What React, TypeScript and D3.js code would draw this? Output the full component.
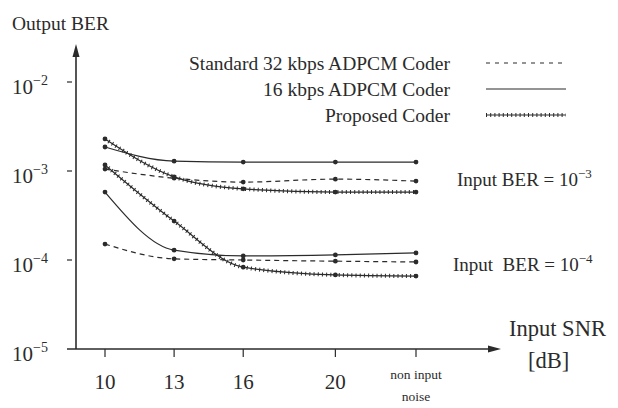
import React from 'react';
import * as d3 from 'd3';

// Input SNR in dB; the last point is "non input noise", placed one step past 20 dB
const snrValues = [10, 13, 16, 20, 23.5];
const snrLabels = [['10'], ['13'], ['16'], ['20'], ['non input', 'noise']];

// Output BER, input BER = 1e-3
const std32Ber3 = [1.05e-3, 8.3e-4, 7.5e-4, 8.1e-4, 7.7e-4];
const adpcm16Ber3 = [1.86e-3, 1.29e-3, 1.26e-3, 1.26e-3, 1.26e-3];
const proposedBer3 = [2.29e-3, 8.6e-4, 6.3e-4, 5.8e-4, 5.8e-4];

// Output BER, input BER = 1e-4
const std32Ber4 = [1.51e-4, 1.03e-4, 1.0e-4, 9.7e-5, 9.5e-5];
const adpcm16Ber4 = [5.8e-4, 1.29e-4, 1.11e-4, 1.14e-4, 1.2e-4];
const proposedBer4 = [1.17e-3, 2.74e-4, 8.3e-5, 6.8e-5, 6.6e-5];

const yTickValues = [1e-2, 1e-3, 1e-4, 1e-5];
const yTickExponents = ['−2', '−3', '−4', '−5'];

const legendLabels = ['Standard 32 kbps ADPCM Coder', '16 kbps ADPCM Coder', 'Proposed Coder'];
const legendStyles = ['dashed', 'solid', 'proposed'];

const ink = '#2b2b2b';
const font = '"Liberation Serif", "Times New Roman", serif';

const width = 618;
const height = 408;
const axisX = 76;
const axisY = 349;

const x = d3.scaleLinear().domain([10, 23.5]).range([105, 416]);
const y = d3.scaleLog().domain([1e-5, 1e-2]).range([axisY, 82]);

const line = d3
  .line<number>()
  .x((_, i) => x(snrValues[i]))
  .y(d => y(d))
  .curve(d3.curveMonotoneX);

// thin line with small cross-hatches, as in the printed figure
const Hatched = ({ d }: { d: string }) => (
  <g fill="none" stroke={ink}>
    <path d={d} strokeWidth={1.2} />
    <path d={d} strokeWidth={4} strokeDasharray="1 3.2" />
  </g>
);

const Curve = ({ values, kind }: { values: number[]; kind: string }) => {
  const d = line(values) || '';
  return (
    <g>
      {kind === 'dashed' && (
        <path d={d} fill="none" stroke={ink} strokeWidth={1.2} strokeDasharray="5 4" />
      )}
      {kind === 'solid' && <path d={d} fill="none" stroke={ink} strokeWidth={1.2} />}
      {kind === 'proposed' && <Hatched d={d} />}
      {values.map((v, i) => (
        <circle key={i} cx={x(snrValues[i])} cy={y(v)} r={2.4} fill={ink} />
      ))}
    </g>
  );
};

const LegendSample = ({ kind, y0 }: { kind: string; y0: number }) => {
  const d = `M486,${y0}L566,${y0}`;
  if (kind === 'dashed')
    return <path d={d} stroke={ink} strokeWidth={1.2} strokeDasharray="4 5" />;
  if (kind === 'solid') return <path d={d} stroke={ink} strokeWidth={1.2} />;
  return <Hatched d={d} />;
};

export default function App() {
  return (
    <svg
      width={width}
      height={height}
      style={{ position: 'absolute', left: 0, top: 0, background: '#fff' }}
      fontFamily={font}
      fill={ink}
    >
      {/* y axis with arrow */}
      <line x1={axisX} y1={axisY} x2={axisX} y2={52} stroke={ink} strokeWidth={1.6} />
      <path d={`M${axisX},44L${axisX - 3.5},57L${axisX + 3.5},57Z`} fill={ink} />
      {/* x axis with arrow */}
      <line x1={67} y1={axisY} x2={492} y2={axisY} stroke={ink} strokeWidth={1.6} />
      <path d={`M501,${axisY}L488,${axisY - 3.5}L488,${axisY + 3.5}Z`} fill={ink} />

      <text x={12} y={30} fontSize={19.5}>Output BER</text>

      {yTickValues.map((v, i) => (
        <g key={v}>
          {i < 3 && <line x1={67} x2={72} y1={y(v)} y2={y(v)} stroke={ink} strokeWidth={1.2} />}
          <text x={12} y={y(v) + 12} fontSize={21}>
            10
            <tspan dy={-9} fontSize={14}>{yTickExponents[i]}</tspan>
          </text>
        </g>
      ))}

      {snrValues.map((s, i) => (
        <g key={s}>
          <line x1={x(s)} x2={x(s)} y1={axisY} y2={axisY + 8} stroke={ink} strokeWidth={1.2} />
          {snrLabels[i].length === 1 ? (
            <text x={x(s)} y={389} fontSize={21} textAnchor="middle">{snrLabels[i][0]}</text>
          ) : (
            snrLabels[i].map((t, j) => (
              <text key={t} x={x(s)} y={379 + j * 22} fontSize={13.5} textAnchor="middle">{t}</text>
            ))
          )}
        </g>
      ))}

      <text x={509} y={336} fontSize={22.5}>Input SNR</text>
      <text x={528} y={368} fontSize={22.5}>[dB]</text>

      {legendLabels.map((t, i) => (
        <g key={t}>
          <text x={450} y={70 + i * 26} fontSize={19.5} textAnchor="end">{t}</text>
          <LegendSample kind={legendStyles[i]} y0={63 + i * 26} />
        </g>
      ))}

      <Curve values={adpcm16Ber3} kind="solid" />
      <Curve values={std32Ber3} kind="dashed" />
      <Curve values={proposedBer3} kind="proposed" />
      <Curve values={adpcm16Ber4} kind="solid" />
      <Curve values={std32Ber4} kind="dashed" />
      <Curve values={proposedBer4} kind="proposed" />

      <text x={457} y={186} fontSize={19}>
        Input BER = 10<tspan dy={-8} fontSize={13}>−3</tspan>
      </text>
      <text x={453} y={271} fontSize={19} xmlSpace="preserve">
        Input  BER = 10<tspan dy={-8} fontSize={13}>−4</tspan>
      </text>
    </svg>
  );
}
